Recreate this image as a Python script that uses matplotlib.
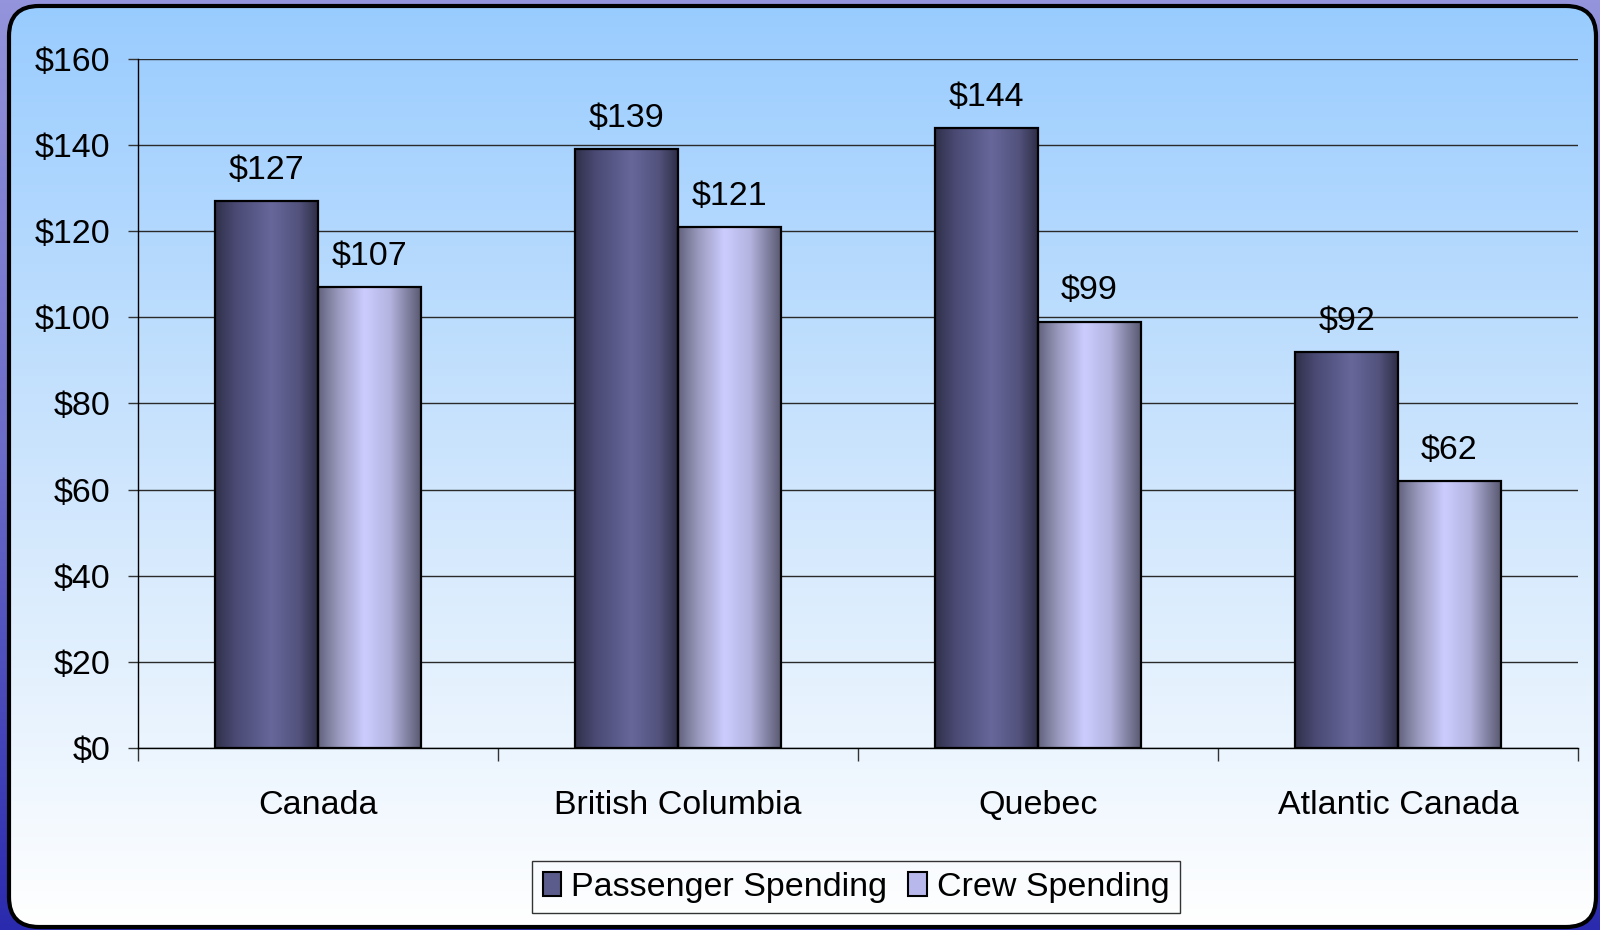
import numpy as np
import matplotlib.pyplot as plt
from matplotlib.colors import LinearSegmentedColormap
from matplotlib.patches import FancyBboxPatch, Patch

plt.rcParams["font.family"] = ["Liberation Sans", "DejaVu Sans"]

categories = ["Canada", "British Columbia", "Quebec", "Atlantic Canada"]
passenger = [127, 139, 144, 92]
crew = [107, 121, 99, 62]
yticks = [0, 20, 40, 60, 80, 100, 120, 140, 160]

W, H = 1600, 930
FS = 24.5
fig = plt.figure(figsize=(16, 9.3), dpi=100)

# slide backdrop and rounded panel, drawn in pixel coordinates
bg = fig.add_axes([0, 0, 1, 1], zorder=-10)
bg.set_xlim(0, W)
bg.set_ylim(H, 0)
bg.axis("off")
outer = LinearSegmentedColormap.from_list("outer", ["#9494dc", "#6a6ac8", "#2a2aae"])
bg.imshow(np.linspace(0, 1, 256)[:, None], cmap=outer, extent=(0, W, H, 0), aspect="auto")
panel = FancyBboxPatch((9, 6), 1587, 921, boxstyle="round,pad=0,rounding_size=30",
                       facecolor="none", edgecolor="black", linewidth=3, zorder=3)
bg.add_patch(panel)
inner = LinearSegmentedColormap.from_list("inner", ["#99ccff", "#cde5fd", "#ffffff"])
im = bg.imshow(np.linspace(0, 1, 256)[:, None], cmap=inner, extent=(9, 1596, 927, 6),
               aspect="auto", zorder=2)
im.set_clip_path(panel)

ax = fig.add_axes([138 / W, 1 - 748 / H, 1440 / W, 689 / H])
ax.patch.set_alpha(0)

pass_cmap = LinearSegmentedColormap.from_list(
    "pass", [(0, "#30304a"), (0.2, "#4a4a74"), (0.55, "#67679b"), (0.82, "#52527c"), (1, "#2e2e48")])
crew_cmap = LinearSegmentedColormap.from_list(
    "crew", [(0, "#62627e"), (0.2, "#9a9abe"), (0.45, "#ccccff"), (0.7, "#b4b4e0"), (1, "#5a5a72")])

x = np.arange(len(categories))
bw = 0.285
grad = np.linspace(0, 1, 256)[None, :]
for vals, offs, cmap in [(passenger, -bw / 2, pass_cmap), (crew, bw / 2, crew_cmap)]:
    bars = ax.bar(x + offs, vals, bw, facecolor="none", edgecolor="black", linewidth=1.6, zorder=3)
    for b, v in zip(bars, vals):
        x0 = b.get_x()
        g = ax.imshow(grad, cmap=cmap, extent=(x0, x0 + bw, 0, v), aspect="auto", zorder=2)
        g.set_clip_path(b)
        ax.annotate(f"${v}", (x0 + bw / 2, v), xytext=(0, 16), textcoords="offset points",
                    ha="center", va="baseline", fontsize=FS)

ax.set_xlim(-0.5, len(categories) - 0.5)
ax.set_ylim(0, 160)
ax.set_yticks(yticks)
ax.set_yticklabels([f"${t}" for t in yticks])
ax.set_xticks(x)
ax.set_xticklabels(categories)
ax.set_xticks(np.arange(len(categories) + 1) - 0.5, minor=True)
ax.tick_params(axis="x", which="major", length=0, pad=30, labelsize=FS)
ax.tick_params(axis="x", which="minor", length=9, width=1, color="#333333")
ax.tick_params(axis="y", length=7, width=1, pad=13, labelsize=FS, color="#333333")
ax.grid(axis="y", color="#2a2a2a", linewidth=1)
ax.set_axisbelow(True)
for s in ["top", "right"]:
    ax.spines[s].set_visible(False)
for s in ["left", "bottom"]:
    ax.spines[s].set_color("black")
    ax.spines[s].set_linewidth(1)

handles = [Patch(facecolor="#5c5c8c", edgecolor="black", linewidth=1.5),
           Patch(facecolor="#b8b8ec", edgecolor="black", linewidth=1.5)]
leg = fig.legend(handles, ["Passenger Spending", "Crew Spending"], loc="center",
                 bbox_to_anchor=(856 / W, 1 - 887 / H), ncol=2, fontsize=FS,
                 frameon=True, fancybox=False, edgecolor="black", facecolor="none",
                 handlelength=0.55, handleheight=0.7, handletextpad=0.3,
                 columnspacing=0.6, borderpad=0.3)
leg.get_frame().set_linewidth(1)

fig.savefig("out.png", dpi=100)
